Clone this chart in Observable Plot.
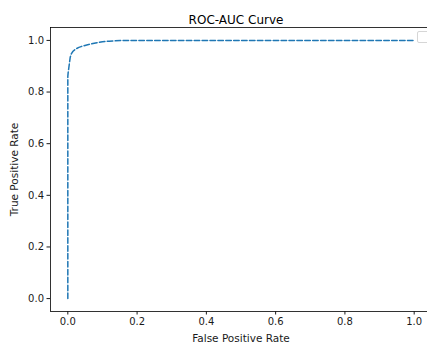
<!DOCTYPE html>
<html>
<head>
<meta charset="utf-8">
<script src="https://cdn.jsdelivr.net/npm/d3@7"></script>
<script src="https://cdn.jsdelivr.net/npm/@observablehq/plot@0.6"></script>
<style>
  html, body { margin: 0; padding: 0; background: #fff; overflow: hidden; }
  #wrap { position: relative; width: 427px; height: 347px; }
  #legend { position: absolute; left: 417px; top: 31px; width: 12px; height: 10px;
    border: 1px solid #d6d6d6; border-radius: 2px; background: rgba(255,255,255,0.8); }
</style>
</head>
<body>
<div id="wrap"></div>
<script>
const fpr = [0, 0, 0.001, 0.003, 0.005, 0.007, 0.01, 0.015, 0.022, 0.032, 0.045, 0.06, 0.08, 0.1, 0.12, 0.16, 1.0];
const tpr = [0, 0.86, 0.875, 0.895, 0.915, 0.935, 0.948, 0.958, 0.966, 0.973, 0.979, 0.984, 0.99, 0.995, 0.997, 1.0, 1.0];
const xTicks = [0, 0.2, 0.4, 0.6, 0.8, 1.0];
const yTicks = [0, 0.2, 0.4, 0.6, 0.8, 1.0];
const title = "ROC-AUC Curve";
const xLabel = "False Positive Rate";
const yLabel = "True Positive Rate";

const data = fpr.map((x, i) => ({x, y: tpr[i]}));

const chart = Plot.plot({
  width: 427,
  height: 347,
  marginLeft: 50,
  marginRight: -4,
  marginTop: 27,
  marginBottom: 36,
  style: {fontFamily: "DejaVu Sans", fontSize: "10px", color: "#1a1a1a", background: "#fff"},
  x: {domain: [-0.05, 1.05]},
  y: {domain: [-0.05, 1.05]},
  marks: [
    Plot.line(data, {x: "x", y: "y", stroke: "#1f77b4", strokeWidth: 1.5, strokeDasharray: "5.5,2.4"}),
    Plot.frame({stroke: "#000", strokeWidth: 0.8}),
    Plot.axisX({ticks: xTicks, tickFormat: d3.format(".1f"), tickSize: 3.5, tickPadding: 3,
      label: null, fontSize: 10}),
    Plot.axisX({ticks: [], label: xLabel, labelAnchor: "center", labelArrow: "none", labelOffset: 30, fontSize: 10.5}),
    Plot.axisY({ticks: yTicks, tickFormat: d3.format(".1f"), tickSize: 3.5, tickPadding: 3,
      label: null, fontSize: 10}),
    Plot.axisY({ticks: [], label: yLabel, labelAnchor: "center", labelArrow: "none", labelOffset: 40, fontSize: 10.5}),
    Plot.text([title], {frameAnchor: "top", dy: -12, dx: -5, fontSize: 12, fill: "#000", fontFamily: "DejaVu Sans"})
  ]
});
document.getElementById("wrap").appendChild(chart);
const lg = document.createElement("div");
lg.id = "legend";
document.getElementById("wrap").appendChild(lg);
</script>
</body>
</html>
